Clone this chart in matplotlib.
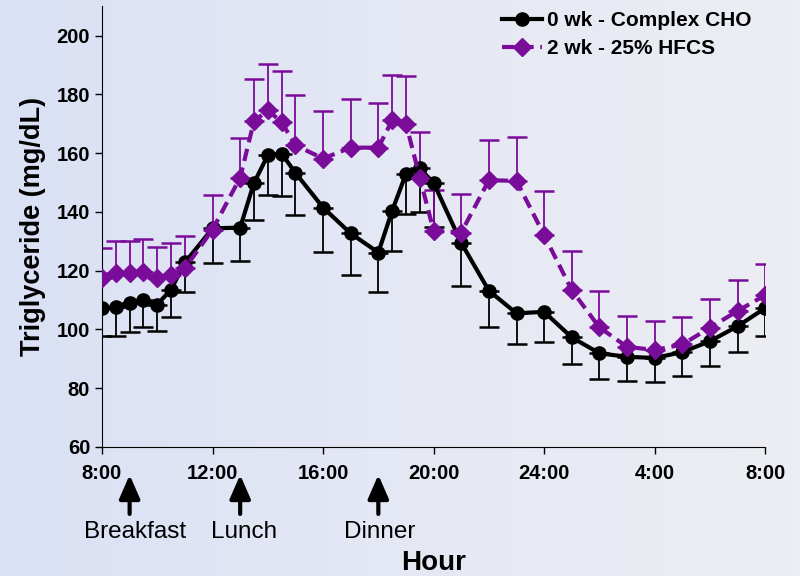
import numpy as np
import matplotlib.pyplot as plt
from matplotlib.colors import LinearSegmentedColormap

plt.rcParams['font.family'] = ['Liberation Sans', 'DejaVu Sans']

hours = [8, 8.5, 9, 9.5, 10, 10.5, 11, 12, 13, 13.5, 14, 14.5, 15, 16, 17, 18,
         18.5, 19, 19.5, 20, 21, 22, 23, 24, 25, 26, 27, 28, 29, 30, 31, 32]
complex_cho = [107.4, 107.5, 108.9, 110.2, 108.5, 113.6, 122.8, 134.4, 134.7, 149.9,
               159.3, 159.9, 153.3, 141.5, 132.7, 126.2, 140.4, 153.0, 154.8, 149.9,
               129.5, 113.2, 105.5, 106.0, 97.3, 91.9, 90.7, 90.3, 92.3, 96.0, 101.1, 107.3]
complex_sem = [9.6, 9.7, 9.7, 9.5, 9.0, 9.5, 10.1, 11.8, 11.5, 12.5, 13.5, 14.4, 14.5,
               15.1, 14.2, 13.4, 13.6, 13.7, 14.8, 14.9, 14.7, 12.3, 10.4, 10.2, 9.1,
               8.8, 8.3, 8.1, 8.0, 8.3, 8.9, 9.4]
hfcs = [117.4, 119.3, 119.1, 119.4, 117.4, 118.4, 120.8, 134.0, 151.7, 170.9, 174.6,
        170.6, 162.7, 158.2, 161.9, 161.9, 171.2, 170.1, 151.7, 133.6, 133.0, 150.8,
        150.6, 132.1, 113.4, 100.7, 94.1, 93.0, 94.9, 100.6, 106.3, 111.7]
hfcs_sem = [10.4, 10.8, 11.0, 11.3, 10.7, 11.2, 11.1, 11.9, 13.6, 14.4, 15.7, 17.3,
            17.0, 16.2, 16.5, 15.2, 15.4, 16.1, 15.5, 13.8, 13.2, 13.6, 14.8, 15.0,
            13.3, 12.5, 10.6, 9.9, 9.4, 9.7, 10.5, 10.5]
tick_hours = [8, 12, 16, 20, 24, 28, 32]
tick_labels = ['8:00', '12:00', '16:00', '20:00', '24:00', '4:00', '8:00']
meals = ['Breakfast', 'Lunch', 'Dinner']
meal_hours = [9, 13, 18]

purple = '#7a0c9a'

fig = plt.figure(figsize=(8, 5.76), dpi=100)

# background gradient
bg = fig.add_axes([0, 0, 1, 1], zorder=-10)
cmap = LinearSegmentedColormap.from_list('bg', ['#dae1f5', '#e5e8f4', '#eceef3'])
bg.imshow(np.linspace(0, 1, 256).reshape(1, -1), aspect='auto', cmap=cmap,
          extent=[0, 1, 0, 1])
bg.axis('off')

ax = fig.add_axes([0.1275, 0.224, 0.829, 0.765])
ax.patch.set_alpha(0)

n = len(hours)
ax.errorbar(hours, complex_cho, yerr=[complex_sem, np.zeros(n)], fmt='none',
            ecolor='black', elinewidth=1.3, capsize=7, capthick=1.8, zorder=2)
ax.errorbar(hours, hfcs, yerr=[np.zeros(n), hfcs_sem], fmt='none',
            ecolor=purple, elinewidth=1.3, capsize=7, capthick=1.8, zorder=2)
ax.plot(hours, complex_cho, '-o', color='black', lw=3, ms=9.5,
        label='0 wk - Complex CHO', zorder=3)
ax.plot(hours, hfcs, '--D', color=purple, lw=3, ms=9, dashes=(3, 1.6),
        label='2 wk - 25% HFCS', zorder=4)

ax.set_xlim(8, 32)
ax.set_ylim(60, 210)
ax.set_yticks(range(60, 201, 20))
ax.set_xticks(tick_hours)
ax.set_xticklabels(tick_labels)
ax.tick_params(labelsize=14.5, width=1, length=5, direction='out')
ax.tick_params(axis='x', pad=7)
for lab in ax.get_xticklabels() + ax.get_yticklabels():
    lab.set_fontweight('bold')
ax.spines['top'].set_visible(False)
ax.spines['right'].set_visible(False)
ax.set_ylabel('Triglyceride (mg/dL)', fontsize=19.5, fontweight='bold', labelpad=8)

# meal arrows and labels under the axis
for meal, h, dx in zip(meals, meal_hours, [4, 3, 1]):
    ax.annotate('', xy=(h, 50.5), xytext=(h, 37.2), xycoords='data',
                annotation_clip=False,
                arrowprops=dict(arrowstyle='-|>,head_length=0.8,head_width=0.35',
                                color='black', lw=3, mutation_scale=18,
                                shrinkA=0, shrinkB=0))
    ax.annotate(meal, xy=(h, 31.1), xytext=(dx, 0), textcoords='offset points',
                ha='center', va='center', fontsize=17.5, annotation_clip=False)
ax.text(20.0, 20.6, 'Hour', ha='center', va='center', fontsize=20,
        fontweight='bold', clip_on=False)

leg = ax.legend(loc='upper left', bbox_to_anchor=(502 / 800, 1 - 11 / 576),
                bbox_transform=fig.transFigure, frameon=False,
                prop={'weight': 'bold', 'size': 15}, handlelength=1.9,
                handletextpad=0.25, labelspacing=0.45, borderpad=0,
                borderaxespad=0)

fig.savefig('out.png', dpi=100)
